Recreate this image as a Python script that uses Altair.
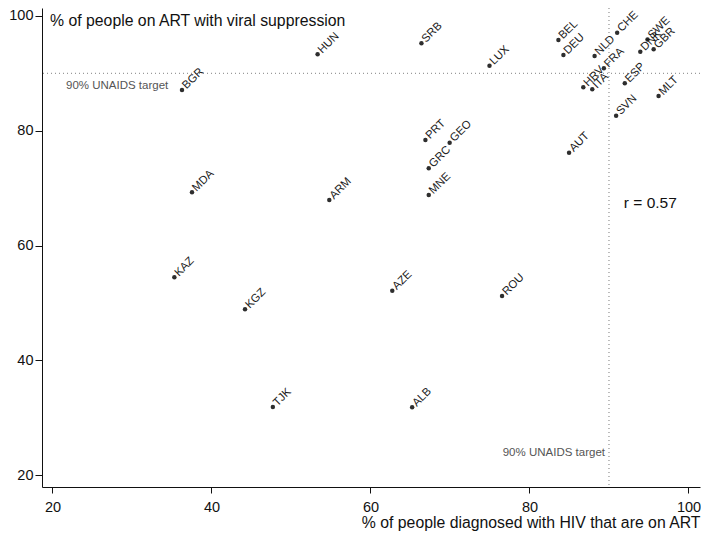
import altair as alt
import pandas as pd

# ---- data ----
countries = ["HUN", "SRB", "LUX", "BGR", "BEL", "DEU", "NLD", "CHE", "FRA", "HRV",
             "ITA", "ESP", "DNK", "SWE", "GBR", "MLT", "SVN", "AUT", "PRT", "GEO",
             "GRC", "MNE", "MDA", "ARM", "KAZ", "KGZ", "AZE", "ROU", "ALB", "TJK"]
pct_on_art = [53.35, 66.41, 74.97, 36.29, 83.64, 84.27, 88.19, 91.03, 89.36, 86.77,
              87.90, 91.99, 93.94, 94.85, 95.62, 96.24, 90.90, 84.98, 66.91, 69.96,
              67.33, 67.33, 37.55, 54.82, 35.33, 44.22, 62.74, 76.55, 65.24, 47.72]
pct_suppressed = [93.33, 95.24, 91.34, 87.11, 95.82, 93.20, 93.03, 97.09, 90.89, 87.58,
                  87.23, 88.27, 93.78, 95.90, 94.20, 86.06, 82.63, 76.19, 78.40, 77.93,
                  73.47, 68.82, 69.28, 67.94, 54.48, 48.90, 52.14, 51.22, 31.83, 31.88]

tick_values = [20, 40, 60, 80, 100]
target = 90
target_label = "90% UNAIDS target"
y_title = "% of people on ART with viral suppression"
x_title = "% of people diagnosed with HIV that are on ART"
r_text = "r = 0.57"

FONT = "Liberation Sans"

df = pd.DataFrame({"country": countries, "art": pct_on_art, "vs": pct_suppressed})

xscale = alt.Scale(domain=[18.68, 101.45], zero=False, nice=False)
yscale = alt.Scale(domain=[17.95, 101.39], zero=False, nice=False)

xaxis = alt.Axis(values=tick_values, grid=False, tickSize=6, labelPadding=7,
                 labelFontSize=14.5, labelFont=FONT, labelColor="#111",
                 domainColor="#111", tickColor="#111", title=x_title,
                 titleAnchor="end", titleFontSize=15.8, titleFont=FONT,
                 titleFontWeight="normal", titleColor="#111", titlePadding=2)
yaxis = alt.Axis(values=tick_values, grid=False, tickSize=7, labelPadding=2,
                 labelFontSize=14.5, labelFont=FONT, labelColor="#111",
                 domainColor="#111", tickColor="#111", title=None)

base = alt.Chart(df)

points = base.mark_circle(size=20, color="#2e2e2e", opacity=1).encode(
    x=alt.X("art:Q", scale=xscale, axis=xaxis),
    y=alt.Y("vs:Q", scale=yscale, axis=yaxis),
)

labels = base.mark_text(angle=315, align="left", baseline="middle", dx=3.5,
                        fontSize=11.3, font=FONT, color="#1a1a1a").encode(
    x=alt.X("art:Q", scale=xscale),
    y=alt.Y("vs:Q", scale=yscale),
    text="country:N",
)

hrule = alt.Chart(pd.DataFrame({"t": [target]})).mark_rule(
    color="#9a9a9a", strokeDash=[1, 3], strokeWidth=1.3).encode(
    y=alt.Y("t:Q", scale=yscale))
vrule = alt.Chart(pd.DataFrame({"t": [target]})).mark_rule(
    color="#9a9a9a", strokeDash=[1, 3], strokeWidth=1.3).encode(
    x=alt.X("t:Q", scale=xscale))

ann = pd.DataFrame({
    "x": [21.7, target, 19.69, 91.87],
    "y": [87.8, 23.87, 98.17, 66.5],
    "label": [target_label, target_label, y_title, r_text],
    "kind": ["h", "v", "title", "r"],
})

ann_h = alt.Chart(ann[ann.kind == "h"]).mark_text(
    align="left", baseline="middle", fontSize=11.5, font=FONT, color="#555").encode(
    x=alt.X("x:Q", scale=xscale), y=alt.Y("y:Q", scale=yscale), text="label:N")
ann_v = alt.Chart(ann[ann.kind == "v"]).mark_text(
    align="right", baseline="middle", dx=-4, fontSize=11.5, font=FONT, color="#555").encode(
    x=alt.X("x:Q", scale=xscale), y=alt.Y("y:Q", scale=yscale), text="label:N")
ann_t = alt.Chart(ann[ann.kind == "title"]).mark_text(
    align="left", baseline="alphabetic", fontSize=15.8, font=FONT, color="#111").encode(
    x=alt.X("x:Q", scale=xscale), y=alt.Y("y:Q", scale=yscale), text="label:N")
ann_r = alt.Chart(ann[ann.kind == "r"]).mark_text(
    align="left", baseline="alphabetic", fontSize=15.5, font=FONT, color="#111").encode(
    x=alt.X("x:Q", scale=xscale), y=alt.Y("y:Q", scale=yscale), text="label:N")

chart = alt.layer(hrule, vrule, points, labels, ann_h, ann_v, ann_t, ann_r).properties(
    width=658, height=479,
    autosize=alt.AutoSizeParams(type="none"),
    padding={"left": 34, "top": 0, "right": 1, "bottom": 44},
    background="white",
).configure_view(stroke=None)

chart.save("out.html", embed_options={"renderer": "svg", "actions": False})
